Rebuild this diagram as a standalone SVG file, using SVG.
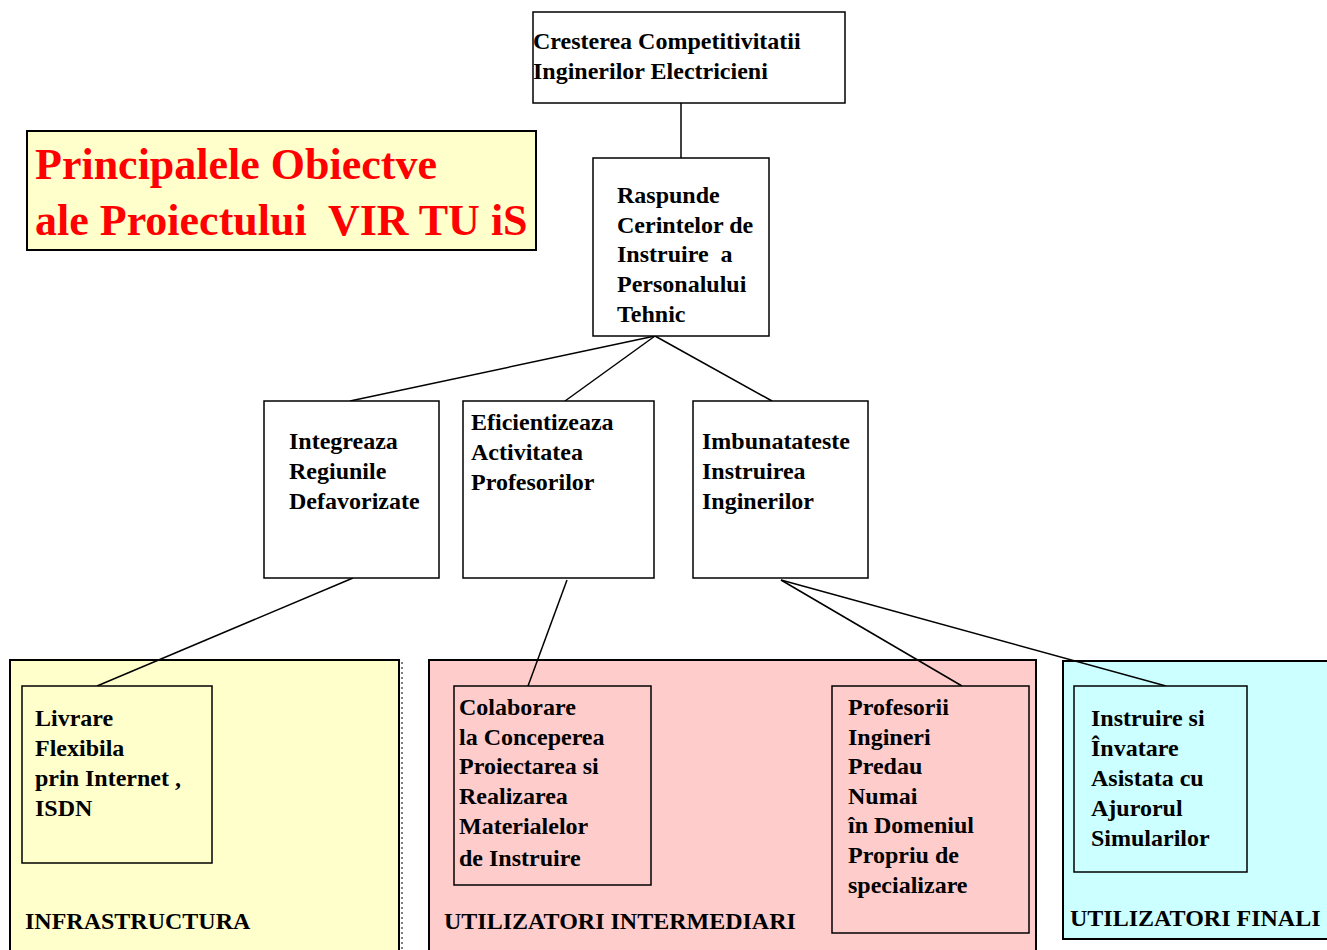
<svg xmlns="http://www.w3.org/2000/svg" width="1327" height="950" viewBox="0 0 1327 950">
<style>
.b{fill:#fff;stroke:#000;stroke-width:1.5}
.t{font-family:"Liberation Serif","Times New Roman",serif;font-weight:bold;font-size:24px;fill:#000}
.h{font-family:"Liberation Serif","Times New Roman",serif;font-weight:bold;font-size:44px;fill:#FF0000}
.c line{stroke:#000;stroke-width:1.5}
</style>
<rect width="1327" height="950" fill="#fff"/>
<g id="title">
<rect x="27" y="131" width="509" height="119" fill="#FFFFCC" stroke="#000" stroke-width="2"/>
<text class="h" x="35" y="179">Principalele Obiectve</text>
<text class="h" x="35" y="235" xml:space="preserve">ale Proiectului  VIR TU iS</text>
</g>
<g id="infra">
<rect x="10" y="660" width="389" height="300" fill="#FFFFCC" stroke="#000" stroke-width="2"/>
<line x1="402" y1="662" x2="402" y2="950" stroke="#000" stroke-width="1" stroke-dasharray="2,3"/>
<text class="t" x="25" y="929">INFRASTRUCTURA</text>
</g>
<g id="intermed">
<rect x="429" y="660" width="607" height="300" fill="#FFCCCC" stroke="#000" stroke-width="2"/>
<text class="t" x="444" y="929">UTILIZATORI INTERMEDIARI</text>
</g>
<g id="finali">
<rect x="1063" y="661" width="270" height="278" fill="#CCFFFF" stroke="#000" stroke-width="2"/>
<text class="t" x="1070" y="926">UTILIZATORI FINALI</text>
</g>
<g class="c" id="connectors">
<line x1="681" y1="103" x2="681" y2="158"/>
<line x1="655" y1="336" x2="350" y2="401"/>
<line x1="655" y1="336" x2="565" y2="401"/>
<line x1="655" y1="336" x2="772" y2="401"/>
<line x1="353" y1="578" x2="97" y2="686"/>
<line x1="567" y1="580" x2="528" y2="686"/>
<line x1="781" y1="580" x2="962" y2="686"/>
<line x1="781" y1="580" x2="1166" y2="686"/>
</g>
<g id="n1">
<rect class="b" x="533" y="12" width="312" height="91"/>
<text class="t" x="533" y="49">Cresterea Competitivitatii</text>
<text class="t" x="533" y="79">Inginerilor Electricieni</text>
</g>
<g id="n2">
<rect class="b" x="593" y="158" width="176" height="178"/>
<text class="t" x="617" y="203">Raspunde</text>
<text class="t" x="617" y="233">Cerintelor de</text>
<text class="t" x="617" y="262" xml:space="preserve">Instruire  a</text>
<text class="t" x="617" y="292">Personalului</text>
<text class="t" x="617" y="322">Tehnic</text>
</g>
<g id="n3">
<rect class="b" x="264" y="401" width="175" height="177"/>
<text class="t" x="289" y="449">Integreaza</text>
<text class="t" x="289" y="479">Regiunile</text>
<text class="t" x="289" y="509">Defavorizate</text>
</g>
<g id="n4">
<rect class="b" x="463" y="401" width="191" height="177"/>
<text class="t" x="471" y="430">Eficientizeaza</text>
<text class="t" x="471" y="460">Activitatea</text>
<text class="t" x="471" y="490">Profesorilor</text>
</g>
<g id="n5">
<rect class="b" x="693" y="401" width="175" height="177"/>
<text class="t" x="702" y="449">Imbunatateste</text>
<text class="t" x="702" y="479">Instruirea</text>
<text class="t" x="702" y="509">Inginerilor</text>
</g>
<g id="n6">
<rect x="22" y="686" width="190" height="177" fill="#FFFFCC" stroke="#000" stroke-width="1.5"/>
<text class="t" x="35" y="726">Livrare</text>
<text class="t" x="35" y="756">Flexibila</text>
<text class="t" x="35" y="786">prin Internet ,</text>
<text class="t" x="35" y="816">ISDN</text>
</g>
<g id="n7">
<rect x="454" y="686" width="197" height="199" fill="#FFCCCC" stroke="#000" stroke-width="1.5"/>
<text class="t" x="459" y="715">Colaborare</text>
<text class="t" x="459" y="745">la Conceperea</text>
<text class="t" x="459" y="774">Proiectarea si</text>
<text class="t" x="459" y="804">Realizarea</text>
<text class="t" x="459" y="834">Materialelor</text>
<text class="t" x="459" y="866">de Instruire</text>
</g>
<g id="n8">
<rect x="832" y="686" width="197" height="247" fill="#FFCCCC" stroke="#000" stroke-width="1.5"/>
<text class="t" x="848" y="715">Profesorii</text>
<text class="t" x="848" y="745">Ingineri</text>
<text class="t" x="848" y="774">Predau</text>
<text class="t" x="848" y="804">Numai</text>
<text class="t" x="848" y="833">în Domeniul</text>
<text class="t" x="848" y="863">Propriu de</text>
<text class="t" x="848" y="893">specializare</text>
</g>
<g id="n9">
<rect x="1074" y="686" width="173" height="186" fill="#CCFFFF" stroke="#000" stroke-width="1.5"/>
<text class="t" x="1091" y="726">Instruire si</text>
<text class="t" x="1091" y="756">Învatare</text>
<text class="t" x="1091" y="786">Asistata cu</text>
<text class="t" x="1091" y="816">Ajurorul</text>
<text class="t" x="1091" y="846">Simularilor</text>
</g>
</svg>
